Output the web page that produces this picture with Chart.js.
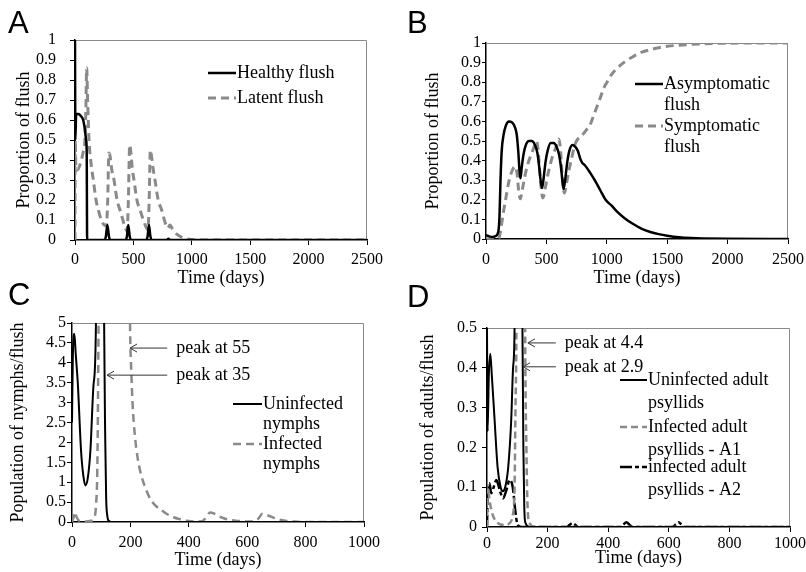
<!DOCTYPE html>
<html>
<head>
<meta charset="utf-8">
<title>Flush and psyllid dynamics</title>
<script src="https://cdn.jsdelivr.net/npm/chart.js@4.4.0/dist/chart.umd.min.js"></script>
<style>
  html, body { margin: 0; padding: 0; background: #fff; }
  #wrap { position: relative; width: 806px; height: 572px; overflow: hidden; }
  canvas { position: absolute; }
</style>
</head>
<body>
<div id="wrap">
  <canvas id="chartA" width="400" height="290" style="left:0;top:0"></canvas>
  <canvas id="chartB" width="406" height="290" style="left:400px;top:0"></canvas>
  <canvas id="chartC" width="400" height="292" style="left:0;top:280px"></canvas>
  <canvas id="chartD" width="406" height="292" style="left:400px;top:280px"></canvas>
</div>
<script>
// ---- values ----

// tick values
const timeTicksLong = [0, 500, 1000, 1500, 2000, 2500];
const timeTicksShort = [0, 200, 400, 600, 800, 1000];
const flushTicks = [0, 0.1, 0.2, 0.3, 0.4, 0.5, 0.6, 0.7, 0.8, 0.9, 1];
const nymphTicks = [0, 0.5, 1, 1.5, 2, 2.5, 3, 3.5, 4, 4.5, 5];
const adultTicks = [0, 0.1, 0.2, 0.3, 0.4, 0.5];

// A - healthy / latent flush
const aHealthyT = [0, 3, 10, 30, 50, 70, 85, 95, 100, 104, 110, 255, 265, 277, 290, 300, 435, 445, 456, 468, 478, 612, 622, 633, 645, 655, 785, 800, 815, 2500];
const aHealthyV = [1, 0.5, 0.63, 0.63, 0.62, 0.6, 0.55, 0.5, 0.45, 0, 0, 0, 0.02, 0.075, 0.02, 0, 0, 0.02, 0.075, 0.02, 0, 0, 0.02, 0.075, 0.02, 0, 0, 0.006, 0, 0];
const aLatentT = [0, 2, 8, 20, 45, 70, 85, 93, 100, 108, 120, 140, 157, 180, 200, 225, 250, 268, 280, 290, 300, 315, 334, 360, 385, 410, 430, 446, 457, 468, 478, 490, 505, 530, 557, 585, 608, 625, 635, 645, 655, 668, 685, 712, 742, 770, 795, 813, 835, 870, 910, 950, 1000, 1050, 2500];
const aLatentV = [0, 0.5, 0.36, 0.35, 0.38, 0.44, 0.5, 0.65, 0.86, 0.7, 0.5, 0.37, 0.3, 0.2, 0.15, 0.1, 0.075, 0.07, 0.2, 0.435, 0.42, 0.35, 0.3, 0.2, 0.15, 0.1, 0.06, 0.045, 0.2, 0.475, 0.44, 0.36, 0.3, 0.2, 0.15, 0.1, 0.065, 0.05, 0.2, 0.45, 0.42, 0.36, 0.3, 0.2, 0.15, 0.09, 0.06, 0.075, 0.055, 0.03, 0.015, 0.007, 0.002, 0, 0];

// B - asymptomatic / symptomatic flush
const bAsymT = [0, 20, 50, 80, 95, 105, 112, 120, 130, 145, 165, 190, 215, 240, 255, 268, 278, 285, 295, 310, 330, 355, 380, 405, 425, 440, 452, 463, 475, 492, 510, 535, 560, 585, 605, 620, 632, 642, 655, 672, 690, 715, 740, 760, 780, 795, 820, 860, 900, 945, 990, 1040, 1085, 1150, 1222, 1290, 1360, 1430, 1500, 1600, 1700, 1800, 2000, 2500];
const bAsymV = [0.02, 0.015, 0.01, 0.015, 0.025, 0.05, 0.12, 0.3, 0.45, 0.53, 0.58, 0.6, 0.595, 0.57, 0.53, 0.44, 0.34, 0.31, 0.36, 0.43, 0.48, 0.5, 0.5, 0.48, 0.44, 0.37, 0.3, 0.26, 0.3, 0.39, 0.45, 0.49, 0.49, 0.47, 0.43, 0.37, 0.3, 0.255, 0.3, 0.39, 0.45, 0.48, 0.47, 0.45, 0.41, 0.39, 0.375, 0.34, 0.3, 0.25, 0.2, 0.17, 0.14, 0.105, 0.075, 0.052, 0.036, 0.025, 0.017, 0.009, 0.005, 0.003, 0.001, 0];
const bSympT = [0, 100, 110, 125, 145, 165, 185, 205, 225, 243, 258, 270, 284, 300, 325, 350, 380, 405, 420, 432, 448, 462, 472, 490, 520, 550, 580, 602, 615, 630, 642, 650, 665, 690, 712, 735, 760, 785, 810, 835, 860, 885, 915, 946, 975, 1002, 1040, 1084, 1150, 1222, 1290, 1360, 1430, 1500, 1600, 1700, 1800, 2000, 2500];
const bSympV = [0, 0, 0.01, 0.06, 0.14, 0.21, 0.28, 0.33, 0.36, 0.37, 0.33, 0.25, 0.205, 0.25, 0.33, 0.39, 0.44, 0.48, 0.5, 0.45, 0.32, 0.23, 0.21, 0.26, 0.35, 0.42, 0.47, 0.51, 0.47, 0.33, 0.25, 0.235, 0.28, 0.36, 0.42, 0.48, 0.51, 0.525, 0.54, 0.56, 0.58, 0.62, 0.67, 0.72, 0.77, 0.8, 0.84, 0.87, 0.905, 0.932, 0.953, 0.966, 0.976, 0.983, 0.989, 0.993, 0.996, 0.999, 1];

// C - uninfected / infected nymphs (peaks run off the axis: 35 and 55)
const cUninfT = [0, 3, 8, 13, 20, 31, 39, 46, 54, 63, 74, 82, 96, 110, 114, 117, 121, 126, 135, 1000];
const cUninfV = [2.5, 4.2, 4.73, 4.2, 3.47, 1.79, 1.15, 0.92, 1.1, 1.79, 3.47, 5, 35, 5, 2, 0.6, 0.15, 0.03, 0, 0];
const cInfT = [0, 5, 10, 16, 25, 45, 65, 75, 82, 87, 91, 140, 199, 203, 208, 215, 225, 238, 252, 268, 285, 302, 325, 348, 370, 393, 420, 445, 458, 473, 490, 510, 530, 555, 580, 610, 630, 640, 652, 670, 700, 730, 760, 800, 1000];
const cInfV = [0, 0.1, 0.25, 0.12, 0.03, 0.01, 0.03, 0.1, 0.4, 1.5, 5, 55, 4.85, 3.8, 2.9, 2.2, 1.6, 1.15, 0.85, 0.58, 0.42, 0.32, 0.2, 0.12, 0.07, 0.03, 0.01, 0.02, 0.1, 0.24, 0.2, 0.12, 0.07, 0.04, 0.02, 0.01, 0.03, 0.1, 0.21, 0.17, 0.08, 0.03, 0.01, 0, 0];

// D - adult psyllids (peaks run off the axis: 2.9 and 4.4)
const dUninfT = [0, 2, 6, 11, 16, 25, 35, 45, 52, 60, 70, 80, 86, 91, 105, 117, 120, 123, 127, 140, 1000];
const dUninfV = [0.5, 0.24, 0.38, 0.435, 0.38, 0.27, 0.15, 0.1, 0.09, 0.1, 0.15, 0.27, 0.4, 0.5, 2.9, 0.5, 0.2, 0.05, 0.01, 0, 0];
const dA1T = [0, 3, 8, 15, 25, 40, 60, 75, 85, 91, 94, 97, 112, 126, 130, 134, 140, 160, 1000];
const dA1V = [0, 0.1, 0.07, 0.04, 0.02, 0.008, 0.005, 0.01, 0.03, 0.1, 0.3, 0.5, 4.4, 0.5, 0.2, 0.05, 0.01, 0, 0];
const dA2T = [0, 3, 8, 14, 22, 31, 43, 53, 63, 75, 85, 92, 98, 104, 115, 262, 272, 282, 292, 302, 440, 450, 460, 470, 480, 612, 622, 632, 642, 652, 1000];
const dA2V = [0, 0.1, 0.11, 0.085, 0.1, 0.118, 0.09, 0.072, 0.09, 0.118, 0.1, 0.05, 0.015, 0.003, 0, 0, 0.005, 0.01, 0.005, 0, 0, 0.006, 0.012, 0.006, 0, 0, 0.006, 0.012, 0.006, 0, 0];

// legend texts (one entry per dataset, wrapped as in the figure)
const aLabels = [['Healthy flush'], ['Latent flush']];
const bLabels = [['Asymptomatic', 'flush'], ['Symptomatic', 'flush']];
const cLabels = [['Uninfected', 'nymphs'], ['Infected', 'nymphs']];
const dLabels = [['Uninfected adult', 'psyllids'], ['Infected adult', 'psyllids - A1'], ['infected adult', 'psyllids - A2']];

const SERIF = '"Liberation Serif", "Times New Roman", serif';
const GREY = '#8a8a8a';

Chart.defaults.font.family = SERIF;
Chart.defaults.color = '#000';

function pts(ts, vs) {
  return ts.map((t, i) => ({ x: t, y: vs[i] }));
}

function series(labelLines, ts, vs, style) {
  return Object.assign({
    label: labelLines.join(' '),
    data: pts(ts, vs),
    pointRadius: 0,
    fill: false,
    cubicInterpolationMode: 'monotone',
    borderJoinStyle: 'round'
  }, style);
}

// plain labels like the figure: "1", "0.5", "2500"
const plainLabel = v => String(v);

// axes: fixed box sizes so the plot areas land where they are in the figure
function makeScales(p) {
  return {
    x: {
      type: 'linear',
      min: 0,
      max: p.xTicks[p.xTicks.length - 1],
      afterBuildTicks: s => { s.ticks = p.xTicks.map(v => ({ value: v })); },
      afterFit: s => { s.height = p.xHeight; s.paddingLeft = 0; s.paddingRight = 0; },
      ticks: { font: { size: 16 }, color: '#000', padding: p.xTickPad, maxRotation: 0, autoSkip: false, callback: plainLabel },
      grid: { drawOnChartArea: false, tickLength: 5, color: '#000' },
      border: { color: '#000', width: 1.5 },
      title: { display: true, text: 'Time (days)', font: { size: 18 }, color: '#000', padding: { top: 0, bottom: p.xTitlePad } }
    },
    y: {
      type: 'linear',
      min: 0,
      max: p.yTicks[p.yTicks.length - 1],
      afterBuildTicks: s => { s.ticks = p.yTicks.map(v => ({ value: v })); },
      afterFit: s => { s.width = p.yWidth; s.paddingTop = 0; s.paddingBottom = 0; },
      ticks: { font: { size: 16 }, color: '#000', padding: p.yTickPad, autoSkip: false, callback: plainLabel },
      grid: { drawOnChartArea: false, tickLength: p.yTickLen, color: '#000' },
      border: { color: '#000', width: 1.5 },
      title: { display: true, text: p.yTitle, font: { size: 18 }, color: '#000', padding: { top: p.yTitlePad, bottom: 0 } }
    }
  };
}

// frame, panel letter, in-plot legend and peak notes
function decorPlugin(cfg) {
  return {
    id: 'decor' + cfg.letter,
    beforeDatasetsDraw(chart) {
      const { ctx, chartArea: a } = chart;
      ctx.save();
      ctx.strokeStyle = GREY;
      ctx.lineWidth = 1;
      ctx.beginPath();
      ctx.moveTo(a.left, a.top + 0.5);
      ctx.lineTo(a.right - 0.5, a.top + 0.5);
      ctx.lineTo(a.right - 0.5, a.bottom);
      ctx.stroke();
      ctx.restore();
    },
    afterDraw(chart) {
      const ctx = chart.ctx;
      const xs = chart.scales.x, ys = chart.scales.y;
      ctx.save();
      ctx.fillStyle = '#000';
      ctx.textAlign = 'left';

      ctx.font = '31px "Liberation Sans", Arial, sans-serif';
      ctx.textBaseline = 'alphabetic';
      ctx.fillText(cfg.letter, cfg.letterPos[0], cfg.letterPos[1]);

      ctx.font = '18px ' + SERIF;
      ctx.textBaseline = 'middle';
      cfg.legend.forEach((item, i) => {
        const ds = chart.data.datasets[i];
        ctx.save();
        ctx.strokeStyle = ds.borderColor;
        ctx.lineWidth = ds.borderWidth;
        ctx.setLineDash(ds.borderDash || []);
        ctx.beginPath();
        ctx.moveTo(cfg.legendX, item.y);
        ctx.lineTo(cfg.legendX + cfg.sampleLen, item.y);
        ctx.stroke();
        ctx.restore();
        item.lines.forEach((txt, k) => {
          ctx.fillText(txt, cfg.legendX + cfg.sampleLen + 1, item.y + k * cfg.lineGap);
        });
      });

      (cfg.notes || []).forEach(n => {
        const tx = xs.getPixelForValue(n.tip[0]);
        const ty = ys.getPixelForValue(n.tip[1]);
        const lx = xs.getPixelForValue(n.textX);
        ctx.fillText(n.text, lx, ty);
        ctx.save();
        ctx.strokeStyle = '#333';
        ctx.lineWidth = 1;
        ctx.beginPath();
        ctx.moveTo(lx - 9, ty);
        ctx.lineTo(tx, ty);
        ctx.moveTo(tx + 7, ty - 4);
        ctx.lineTo(tx, ty);
        ctx.lineTo(tx + 7, ty + 4);
        ctx.stroke();
        ctx.restore();
      });
      ctx.restore();
    }
  };
}

function makeChart(id, datasets, p, deco) {
  return new Chart(document.getElementById(id), {
    type: 'line',
    data: { datasets: datasets },
    options: {
      responsive: false,
      animation: false,
      layout: { padding: { left: 0, top: p.top, right: p.right, bottom: 0 } },
      plugins: { legend: { display: false }, tooltip: { enabled: false }, title: { display: false } },
      scales: makeScales(p)
    },
    plugins: [decorPlugin(deco)]
  });
}

// Panel A
makeChart('chartA', [
  series(aLabels[0], aHealthyT, aHealthyV, { borderColor: '#000', borderWidth: 2.5 }),
  series(aLabels[1], aLatentT, aLatentV, { borderColor: GREY, borderWidth: 3, borderDash: [8, 5] })
], {
  top: 40, right: 33, xHeight: 50, yWidth: 75, xTicks: timeTicksLong, yTicks: flushTicks,
  xTickPad: 5, xTitlePad: 1, yTickLen: 5, yTickPad: 14, yTitlePad: 13, yTitle: 'Proportion of flush'
}, {
  letter: 'A', letterPos: [8, 33], legendX: 208, sampleLen: 28, lineGap: 21,
  legend: [{ y: 73, lines: aLabels[0] }, { y: 98, lines: aLabels[1] }]
});

// Panel B
makeChart('chartB', [
  series(bLabels[0], bAsymT, bAsymV, { borderColor: '#000', borderWidth: 2.5 }),
  series(bLabels[1], bSympT, bSympV, { borderColor: GREY, borderWidth: 3, borderDash: [8, 5] })
], {
  top: 43, right: 18, xHeight: 51, yWidth: 86, xTicks: timeTicksLong, yTicks: flushTicks,
  xTickPad: 6, xTitlePad: 1, yTickLen: 4, yTickPad: 1, yTitlePad: 22, yTitle: 'Proportion of flush'
}, {
  letter: 'B', letterPos: [7, 33], legendX: 235, sampleLen: 28, lineGap: 21.5,
  legend: [{ y: 84, lines: bLabels[0] }, { y: 126, lines: bLabels[1] }]
});

// Panel C
makeChart('chartC', [
  series(cLabels[0], cUninfT, cUninfV, { borderColor: '#000', borderWidth: 2 }),
  series(cLabels[1], cInfT, cInfV, { borderColor: GREY, borderWidth: 2.5, borderDash: [8, 5] })
], {
  top: 43, right: 36, xHeight: 50, yWidth: 72, xTicks: timeTicksShort, yTicks: nymphTicks,
  xTickPad: 6, xTitlePad: 1, yTickLen: 5, yTickPad: 1, yTitlePad: 7, yTitle: 'Population of nymphs/flush'
}, {
  letter: 'C', letterPos: [8, 25], legendX: 233, sampleLen: 29, lineGap: 20.5,
  legend: [{ y: 124, lines: cLabels[0] }, { y: 164, lines: cLabels[1] }],
  notes: [
    { text: 'peak at 55', tip: [198.6, 4.37], textX: 357 },
    { text: 'peak at 35', tip: [120, 3.69], textX: 357 }
  ]
});

// Panel D
makeChart('chartD', [
  series(dLabels[0], dUninfT, dUninfV, { borderColor: '#000', borderWidth: 2 }),
  series(dLabels[1], dA1T, dA1V, { borderColor: GREY, borderWidth: 2.5, borderDash: [7, 4] }),
  series(dLabels[2], dA2T, dA2V, { borderColor: '#000', borderWidth: 2.5, borderDash: [12, 3, 4, 3] })
], {
  top: 48, right: 16, xHeight: 45, yWidth: 87, xTicks: timeTicksShort, yTicks: adultTicks,
  xTickPad: 2.5, xTitlePad: 3, yTickLen: 5, yTickPad: 5, yTitlePad: 17, yTitle: 'Population of adults/flush'
}, {
  letter: 'D', letterPos: [7, 27], legendX: 220, sampleLen: 27, lineGap: 23,
  legend: [{ y: 100, lines: dLabels[0] }, { y: 147, lines: dLabels[1] }, { y: 187, lines: dLabels[2] }],
  notes: [
    { text: 'peak at 4.4', tip: [135, 0.4625], textX: 257 },
    { text: 'peak at 2.9', tip: [119, 0.4025], textX: 257 }
  ]
});
</script>
</body>
</html>
